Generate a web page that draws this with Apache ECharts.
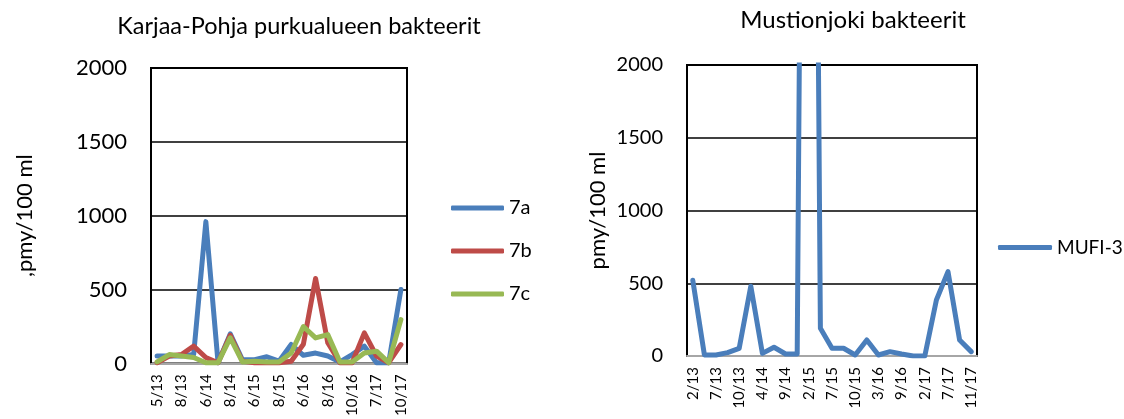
<!DOCTYPE html>
<html>
<head>
<meta charset="utf-8">
<script src="https://cdn.jsdelivr.net/npm/echarts@6/dist/echarts.min.js"></script>
<style>
  html, body { margin: 0; padding: 0; background: #fff; }
  #chart { width: 1124px; height: 419px; }
</style>
</head>
<body>
<div id="chart"></div>
<script>
// Karjaa-Pohja (vasen kuva)
var kpDates = ['5/13', '6/13', '8/13', '10/13', '6/14', '7/14', '8/14', '10/14', '6/15', '7/15', '8/15',
  '10/15', '6/16', '7/16', '8/16', '9/16', '10/16', '6/17', '7/17', '8/17', '10/17']
var s7a = [50, 50, 50, 60, 960, 5, 200, 25, 25, 45, 15, 128, 55, 70, 50, 10, 60, 117, 5, 5, 500]
var s7b = [5, 50, 60, 117, 40, 5, 190, 15, 5, 5, 5, 15, 130, 575, 140, 5, 5, 207, 50, 5, 128]
var s7c = [10, 60, 50, 40, 5, 5, 173, 10, 15, 10, 10, 70, 250, 173, 195, 10, 10, 70, 83, 5, 297]

// Mustionjoki (oikea kuva)
var muDates = ['2/13', '5/13', '7/13', '8/13', '10/13', '1/14', '4/14', '6/14', '9/14', '11/14', '2/15',
  '5/15', '7/15', '8/15', '10/15', '12/15', '3/16', '6/16', '9/16', '11/16', '2/17', '5/17', '7/17', '9/17', '11/17']
var mufi3 = [520, 7, 7, 23, 53, 480, 18, 60, 14, 14, 11000, 190, 53, 53, 7, 110, 7, 30, 14, 0, 0, 385, 580, 110, 30]

var yTicks = [0, 500, 1000, 1500, 2000]

var chart = echarts.init(document.getElementById('chart'))
var font = 'Lato, "Noto Sans", sans-serif'

function xAx (idx, data) {
  return {
    type: 'category',
    gridIndex: idx,
    data: data,
    boundaryGap: true,
    axisLine: { lineStyle: { color: '#a6a6a6', width: 2 } },
    axisTick: { show: false },
    axisLabel: { interval: 1, rotate: 90, margin: 11, fontSize: 15, color: '#000', fontFamily: font }
  }
}

function yAx (idx, name, gap, size) {
  return {
    type: 'value',
    gridIndex: idx,
    min: yTicks[0],
    max: yTicks[yTicks.length - 1],
    interval: 500,
    name: name,
    nameLocation: 'middle',
    nameRotate: 90,
    nameGap: gap,
    nameTextStyle: { fontSize: 22, color: '#000', fontFamily: font },
    axisLine: { show: false },
    axisTick: { show: false },
    axisLabel: {
      margin: 24,
      fontSize: size,
      color: '#000',
      fontFamily: font,
      formatter: function (v) { return String(v) }
    },
    splitLine: { lineStyle: { color: '#000', width: 1.5 } }
  }
}

function lineS (name, data, color, xi) {
  return {
    name: name,
    type: 'line',
    xAxisIndex: xi,
    yAxisIndex: xi,
    data: data,
    symbol: 'none',
    clip: true,
    lineStyle: { color: color, width: 5, cap: 'round', join: 'round' },
    itemStyle: { color: color }
  }
}

var options = {
  animation: false,
  title: [{
    text: 'Karjaa-Pohja purkualueen bakteerit',
    left: 294, top: 9, textAlign: 'center',
    textStyle: { fontSize: 23.5, fontWeight: 'normal', color: '#000', fontFamily: font }
  }, {
    text: 'Mustionjoki bakteerit',
    left: 848, top: 3, textAlign: 'center',
    textStyle: { fontSize: 24, fontWeight: 'normal', color: '#000', fontFamily: font }
  }],
  legend: [{
    data: ['7a', '7b', '7c'],
    orient: 'vertical',
    left: 446, top: 193,
    itemWidth: 53, itemHeight: 5, itemGap: 23,
    icon: 'roundRect',
    textStyle: { fontSize: 20, color: '#000', fontFamily: font }
  }, {
    data: ['MUFI-3'],
    orient: 'vertical',
    left: 993, top: 233,
    itemWidth: 54, itemHeight: 5,
    icon: 'roundRect',
    textStyle: { fontSize: 19, color: '#000', fontFamily: font }
  }],
  grid: [
    { left: 151, top: 68, width: 256, height: 296, show: true, borderColor: '#000', borderWidth: 2 },
    { left: 687, top: 65, width: 290, height: 291, show: true, borderColor: '#000', borderWidth: 2 }
  ],
  xAxis: [xAx(0, kpDates), xAx(1, muDates)],
  yAxis: [yAx(0, ',pmy/100 ml', 115, 22), yAx(1, 'pmy/100 ml', 78, 20)],
  series: [
    lineS('7a', s7a, '#4a7ebb', 0),
    lineS('7b', s7b, '#be4b48', 0),
    lineS('7c', s7c, '#98b954', 0),
    lineS('MUFI-3', mufi3, '#4a7ebb', 1)
  ]
}
chart.setOption(options)
window.addEventListener('resize', function () {
  chart.resize()
})
</script>
</body>
</html>
